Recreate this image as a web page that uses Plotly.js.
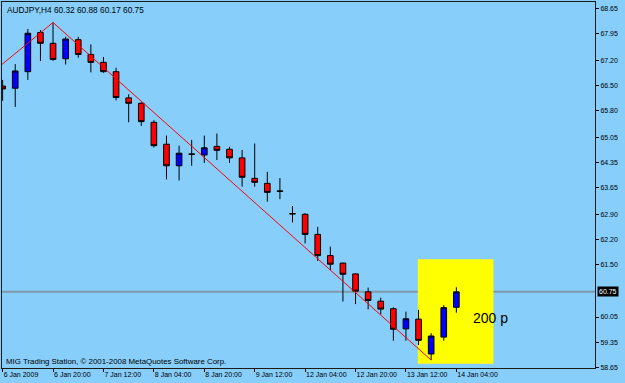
<!DOCTYPE html>
<html>
<head>
<meta charset="utf-8">
<script src="https://cdn.plot.ly/plotly-3.0.1.min.js"></script>
<style>
html,body{margin:0;padding:0;background:#87CEFA;}
#chart{width:625px;height:383px;}
</style>
</head>
<body>
<div id="chart"></div>
<script>
// ---- data (AUDJPY, H4) ----
const symbol = "AUDJPY,H4";
const barIndex = [0,1,2,3,4,5,6,7,8,9,10,11,12,13,14,15,16,17,18,19,20,21,22,23,24,25,26,27,28,29,30,31,32,33,34,35,36];
const openP  = [66.48,66.42,66.88,67.97,67.67,67.24,67.77,67.36,67.14,66.88,66.15,66.00,65.47,64.86,64.26,64.59,64.56,64.80,64.72,64.48,63.91,63.77,63.56,62.93,62.91,62.35,61.76,61.55,61.25,60.75,60.49,60.28,59.72,59.99,59.02,59.49,60.32];
const highP  = [66.65,67.09,68.07,68.04,68.25,67.85,67.85,67.64,67.29,66.99,66.25,66.03,65.53,65.10,64.82,64.98,65.10,65.16,64.79,64.70,64.88,64.09,63.92,63.14,62.94,62.56,62.01,61.56,61.26,60.87,60.59,60.32,60.20,60.25,59.60,60.38,60.88];
const lowP   = [66.07,65.90,66.65,67.18,67.18,67.08,67.27,66.86,66.85,66.08,65.47,65.37,64.77,63.88,63.85,64.26,64.34,64.42,64.34,63.68,63.68,63.26,63.33,62.68,62.10,61.61,61.36,60.48,60.41,60.26,60.12,59.39,59.39,59.27,58.85,59.39,60.17];
const closeP = [66.40,66.90,67.95,67.67,67.22,67.79,67.36,67.14,66.88,66.16,66.00,65.49,64.82,64.26,64.61,64.58,64.76,64.69,64.48,63.94,63.80,63.52,63.55,62.92,62.35,61.76,61.52,61.24,60.77,60.51,60.27,59.71,60.00,59.40,59.52,60.31,60.75];

// x-axis tick labels (every 4 bars)
const tickBars   = [0,4,8,12,16,20,24,28,32,36];
const tickLabels = ["6 Jan 2009","6 Jan 20:00","7 Jan 12:00","8 Jan 04:00","8 Jan 20:00","9 Jan 12:00","12 Jan 04:00","12 Jan 20:00","13 Jan 12:00","14 Jan 04:00"];

// price scale labels
const priceTicks = [68.65,67.95,67.20,66.50,65.80,65.05,64.35,63.65,62.90,62.20,61.50,60.05,59.35,58.65];

// ZigZag turning points
const zzBars   = [-1, 4, 34];
const zzPrices = [66.81, 68.25, 58.85];

// rectangle object + text object
const rectBars   = [32.94, 38.94];
const rectPrices = [61.66, 58.75];
const labelBar   = 37.17;
const labelPrice = 60.03;
const labelText  = "200 p";

const lastClose = closeP[closeP.length-1];
const n = closeP.length-1;
const headerText = symbol + " " + [openP[n],highP[n],lowP[n],closeP[n]].map(v=>v.toFixed(2)).join(" ");

const BG = "#87CEFA";
const FONT = "Liberation Sans, Arial, sans-serif";

const traces = [
  {
    type: "scatter", mode: "lines",
    x: zzBars, y: zzPrices,
    line: {color: "#ff0000", width: 1},
    hoverinfo: "skip", showlegend: false
  },
  {
    type: "candlestick",
    x: barIndex, open: openP, high: highP, low: lowP, close: closeP,
    increasing: {line: {color: "#000000", width: 1}, fillcolor: "#0000ff"},
    decreasing: {line: {color: "#000000", width: 1}, fillcolor: "#ff0000"},
    whiskerwidth: 0,
    hoverinfo: "skip", showlegend: false
  }
];

const layout = {
  width: 625, height: 383,
  margin: {l: 2, r: 30, t: 2, b: 15, pad: 0},
  paper_bgcolor: BG, plot_bgcolor: BG,
  font: {family: FONT, size: 7, color: "#000"},
  showlegend: false,
  boxgap: 0.36,
  xaxis: {
    range: [-0.05, 47.0],
    showgrid: false, zeroline: false,
    showline: true, linecolor: "#1a1a1a", linewidth: 1, mirror: true,
    ticks: "outside", ticklen: 3, tickcolor: "#000",
    tickvals: tickBars, ticktext: tickLabels,
    ticklabelposition: "outside right",
    tickfont: {family: FONT, size: 7, color: "#000"},
    rangeslider: {visible: false},
    fixedrange: true
  },
  yaxis: {
    side: "right",
    range: [58.63, 68.82],
    showgrid: false, zeroline: false,
    showline: true, linecolor: "#1a1a1a", linewidth: 1, mirror: true,
    ticks: "outside", ticklen: 3, tickcolor: "#000",
    tickvals: priceTicks, ticktext: priceTicks.map(v=>v.toFixed(2)),
    tickfont: {family: FONT, size: 7, color: "#000"},
    fixedrange: true
  },
  shapes: [
    {type: "rect", xref: "x", yref: "y", layer: "below",
     x0: rectBars[0], x1: rectBars[1], y0: rectPrices[0], y1: rectPrices[1],
     fillcolor: "#ffff00", line: {width: 0}},
    {type: "line", xref: "paper", yref: "y", layer: "below",
     x0: 0, x1: 1, y0: lastClose, y1: lastClose,
     line: {color: "#8098aa", width: 2}}
  ],
  annotations: [
    {xref: "paper", yref: "paper", x: 0, y: 1, xanchor: "left", yanchor: "top",
     xshift: 3, yshift: -1, showarrow: false, text: headerText,
     font: {family: FONT, size: 8.3, color: "#000"}},
    {xref: "paper", yref: "paper", x: 0, y: 0, xanchor: "left", yanchor: "bottom",
     xshift: 2, yshift: 0, showarrow: false,
     text: "MIG Trading Station, © 2001-2008 MetaQuotes Software Corp.",
     font: {family: FONT, size: 7.9, color: "#000"}},
    {xref: "x", yref: "y", x: labelBar, y: labelPrice, xanchor: "left", yanchor: "middle",
     showarrow: false, text: labelText,
     font: {family: "Arial, Liberation Sans, sans-serif", size: 14, color: "#000"}},
    {xref: "paper", yref: "y", x: 1, y: lastClose, xanchor: "left", yanchor: "middle",
     xshift: 2, showarrow: false, text: lastClose.toFixed(2),
     bgcolor: "#000", borderpad: 1,
     font: {family: FONT, size: 7, color: "#fff"}}
  ]
};

Plotly.newPlot("chart", traces, layout, {staticPlot: true, displayModeBar: false});
</script>
</body>
</html>
